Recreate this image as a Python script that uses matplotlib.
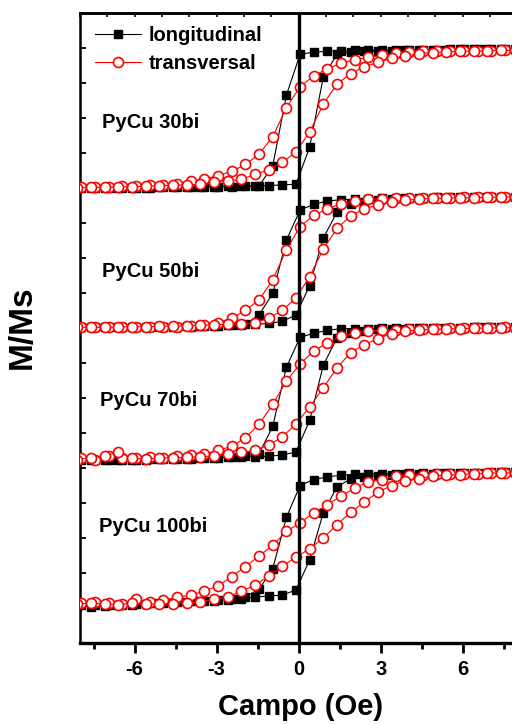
import matplotlib
matplotlib.use("Agg")
import matplotlib.pyplot as plt
from matplotlib.ticker import MultipleLocator, FixedLocator, NullFormatter

plt.rcParams['font.family'] = ['Liberation Sans', 'DejaVu Sans']
plt.rcParams['font.weight'] = 'bold'
plt.rcParams['axes.unicode_minus'] = False

# Applied field (Oe) for the descending and ascending branches of each loop
FIELD_DOWN = [8.05, 7.55, 7.05, 6.55, 6.05, 5.55, 5.05, 4.55, 4.05, 3.55, 3.05,
              2.55, 2.05, 1.55, 1.05, 0.55, 0.05, -0.45, -0.95, -1.45, -1.95,
              -2.45, -2.95, -3.45, -3.95, -4.45, -4.95, -5.45, -5.95, -6.45,
              -6.95, -7.45, -7.95]
FIELD_UP = [-8.1, -7.6, -7.1, -6.6, -6.1, -5.6, -5.1, -4.6, -4.1, -3.6, -3.1,
            -2.6, -2.1, -1.6, -1.1, -0.6, -0.1, 0.4, 0.9, 1.4, 1.9, 2.4, 2.9,
            3.4, 3.9, 4.4, 4.9, 5.4, 5.9, 6.4, 6.9, 7.4, 7.9]

SAMPLES = ["PyCu 30bi", "PyCu 50bi", "PyCu 70bi", "PyCu 100bi"]
SERIES = ["longitudinal", "transversal"]

# Normalised magnetisation M/Ms, PyCu 30bi
LONG30_DOWN = [1.0, 1.0, 1.0, 1.0, 1.0, 1.0, 0.995, 0.995, 0.99, 0.99, 0.99,
               0.985, 0.985, 0.98, 0.975, 0.96, 0.93, 0.34, -0.68, -0.97, -0.97,
               -0.98, -0.98, -0.985, -0.99, -0.99, -0.99, -0.995, -1.0, -1.0,
               -1.0, -1.0, -1.0]
LONG30_UP = [-1.0, -1.0, -1.0, -1.0, -0.995, -0.995, -0.99, -0.99, -0.985,
             -0.98, -0.98, -0.975, -0.97, -0.97, -0.965, -0.955, -0.945, -0.41,
             0.60, 0.93, 0.96, 0.97, 0.975, 0.98, 0.985, 0.99, 0.99, 0.995, 1.0,
             1.0, 1.0, 1.0, 1.0]
TRANS30_DOWN = [0.985, 0.985, 0.98, 0.98, 0.975, 0.975, 0.97, 0.97, 0.965,
                0.945, 0.915, 0.885, 0.85, 0.80, 0.72, 0.62, 0.46, 0.16, -0.26,
                -0.51, -0.66, -0.76, -0.82, -0.87, -0.90, -0.94, -0.95, -0.955,
                -0.97, -0.97, -0.99, -0.99, -0.99]
TRANS30_UP = [-1.0, -0.99, -0.99, -0.985, -0.98, -0.975, -0.965, -0.96, -0.955,
              -0.945, -0.915, -0.905, -0.875, -0.80, -0.74, -0.63, -0.48, -0.19,
              0.21, 0.50, 0.65, 0.75, 0.815, 0.87, 0.905, 0.94, 0.955, 0.965,
              0.97, 0.975, 0.98, 0.985, 0.985]

# PyCu 50bi
LONG50_DOWN = [1.0, 1.0, 1.0, 1.0, 1.0, 0.995, 0.995, 0.99, 0.99, 0.985, 0.98,
               0.975, 0.97, 0.96, 0.94, 0.89, 0.80, 0.34, -0.48, -0.81, -0.95,
               -0.97, -0.98, -0.985, -0.99, -0.99, -0.99, -0.995, -1.0, -1.0,
               -1.0, -1.0, -1.0]
LONG50_UP = [-1.0, -1.0, -1.0, -1.0, -1.0, -0.995, -0.99, -0.99, -0.985, -0.98,
             -0.975, -0.97, -0.965, -0.955, -0.94, -0.91, -0.81, -0.36, 0.37,
             0.77, 0.89, 0.93, 0.96, 0.97, 0.98, 0.985, 0.99, 0.99, 0.995, 1.0,
             1.0, 1.0, 1.0]
TRANS50_DOWN = [1.0, 1.0, 1.0, 0.995, 0.995, 0.99, 0.99, 0.99, 0.985, 0.98,
                0.975, 0.965, 0.94, 0.90, 0.82, 0.72, 0.545, 0.19, -0.27, -0.58,
                -0.74, -0.86, -0.93, -0.96, -0.98, -0.99, -0.99, -0.995, -1.0,
                -0.995, -1.0, -1.0, -1.0]
TRANS50_UP = [-1.0, -1.0, -1.0, -0.995, -0.99, -0.99, -0.985, -0.98, -0.975,
              -0.97, -0.96, -0.955, -0.95, -0.93, -0.86, -0.74, -0.55, -0.22,
              0.20, 0.52, 0.71, 0.82, 0.88, 0.93, 0.95, 0.97, 0.98, 0.985, 0.99,
              0.99, 0.995, 1.0, 1.0]

# PyCu 70bi
LONG70_DOWN = [1.0, 1.0, 1.0, 1.0, 0.995, 0.995, 0.99, 0.99, 0.99, 0.985,
               0.985, 0.98, 0.98, 0.98, 0.955, 0.91, 0.85, 0.40, -0.49, -0.90,
               -0.93, -0.95, -0.96, -0.97, -0.975, -0.98, -0.98, -0.985, -0.99,
               -0.99, -1.0, -1.0, -1.0]
LONG70_UP = [-1.0, -1.0, -1.0, -0.995, -0.99, -0.99, -0.985, -0.98, -0.975,
             -0.97, -0.96, -0.955, -0.95, -0.945, -0.94, -0.92, -0.875, -0.40,
             0.43, 0.84, 0.92, 0.95, 0.97, 0.975, 0.98, 0.985, 0.99, 0.99, 0.995,
             1.0, 1.0, 1.0, 1.0]
TRANS70_DOWN = [1.0, 1.0, 0.995, 0.99, 0.99, 0.985, 0.98, 0.98, 0.975, 0.965,
                0.96, 0.94, 0.915, 0.865, 0.77, 0.64, 0.45, 0.19, -0.16, -0.46,
                -0.66, -0.79, -0.85, -0.91, -0.92, -0.94, -0.96, -0.95, -0.97,
                -0.96, -0.94, -1.0, -0.97]
TRANS70_UP = [-0.99, -0.96, -0.94, -0.875, -0.97, -0.98, -0.965, -0.96, -0.955,
              -0.95, -0.93, -0.91, -0.88, -0.85, -0.77, -0.65, -0.45, -0.20,
              0.09, 0.39, 0.62, 0.74, 0.83, 0.905, 0.94, 0.96, 0.97, 0.975,
              0.98, 0.985, 0.99, 0.99, 0.995]

# PyCu 100bi
LONG100_DOWN = [1.0, 1.0, 1.0, 0.995, 0.995, 0.99, 0.99, 0.985, 0.985, 0.98,
                0.98, 0.975, 0.97, 0.955, 0.93, 0.89, 0.80, 0.32, -0.45, -0.76,
                -0.87, -0.90, -0.92, -0.93, -0.94, -0.95, -0.96, -0.97, -0.98,
                -0.99, -1.0, -1.0, -1.0]
LONG100_UP = [-1.02, -1.02, -1.01, -1.0, -0.99, -0.98, -0.97, -0.96, -0.95,
              -0.94, -0.93, -0.92, -0.90, -0.88, -0.86, -0.85, -0.77, -0.32,
              0.39, 0.78, 0.90, 0.93, 0.95, 0.96, 0.97, 0.98, 0.98, 0.985, 0.99,
              0.99, 0.995, 1.0, 1.0]
TRANS100_DOWN = [0.99, 0.99, 0.985, 0.98, 0.98, 0.975, 0.97, 0.965, 0.955,
                 0.94, 0.89, 0.86, 0.76, 0.64, 0.51, 0.39, 0.24, 0.11, -0.10,
                 -0.26, -0.42, -0.57, -0.71, -0.785, -0.85, -0.88, -0.925,
                 -0.95, -0.91, -0.975, -0.965, -0.95, -0.97]
TRANS100_UP = [-0.98, -0.97, -0.98, -0.99, -0.97, -0.985, -0.98, -0.975, -0.97,
               -0.95, -0.91, -0.875, -0.79, -0.70, -0.56, -0.41, -0.28, -0.15,
               0.01, 0.21, 0.40, 0.55, 0.70, 0.80, 0.87, 0.905, 0.94, 0.955,
               0.965, 0.98, 0.985, 0.99, 0.99]

LONGITUDINAL = [(LONG30_DOWN, LONG30_UP), (LONG50_DOWN, LONG50_UP),
                (LONG70_DOWN, LONG70_UP), (LONG100_DOWN, LONG100_UP)]
TRANSVERSAL = [(TRANS30_DOWN, TRANS30_UP), (TRANS50_DOWN, TRANS50_UP),
               (TRANS70_DOWN, TRANS70_UP), (TRANS100_DOWN, TRANS100_UP)]

# vertical stacking of the loops: centre and half-height in axis units
LOOP_CENTER = [7.49, 5.44, 3.56, 1.49]
LOOP_HALF = [0.99, 0.93, 0.95, 0.95]
LABEL_POS = [(-7.2, 7.35), (-7.2, 5.23), (-7.26, 3.39), (-7.32, 1.59)]

W, H = 512, 724
fig = plt.figure(figsize=(W / 100, H / 100), dpi=100)
ax = fig.add_axes([80 / W, 1 - 643 / H, 437.4 / W, 630 / H])
ax.set_xlim(-8, 8)
ax.set_ylim(0, 9)


def stacked(values, i):
    return [LOOP_CENTER[i] + LOOP_HALF[i] * v for v in values]


sq_kw = dict(color='black', lw=0.8, marker='s', ms=6.2, mfc='black',
             mec='black', zorder=2)
ci_kw = dict(color='red', lw=0.8, marker='o', ms=7.2, mfc='white',
             mec='red', mew=1.2, zorder=3)

handles = []
for i in range(len(SAMPLES)):
    down, up = LONGITUDINAL[i]
    h1, = ax.plot(FIELD_DOWN, stacked(down, i), **sq_kw)
    ax.plot(FIELD_UP, stacked(up, i), **sq_kw)
    down, up = TRANSVERSAL[i]
    h2, = ax.plot(FIELD_DOWN, stacked(down, i), **ci_kw)
    ax.plot(FIELD_UP, stacked(up, i), **ci_kw)
    if i == 0:
        handles = [h1, h2]
    ax.text(LABEL_POS[i][0], LABEL_POS[i][1], SAMPLES[i], fontsize=14.5,
            fontweight='bold', ha='left', va='baseline')

ax.axvline(0, color='black', lw=2.4, zorder=5)

ax.legend(handles, SERIES, loc='upper left', bbox_to_anchor=(0.035, 0.979),
          frameon=False, fontsize=14.5, handlelength=2.25, handletextpad=0.4,
          labelspacing=0.46, borderpad=0, borderaxespad=0)

# axes styling
for side, lw in (('left', 1.8), ('bottom', 2.4), ('top', 1.8), ('right', 1.8)):
    ax.spines[side].set_linewidth(lw)

ax.xaxis.set_major_locator(FixedLocator([-6, -3, 0, 3, 6]))
ax.xaxis.set_minor_locator(FixedLocator([-7.5, -4.5, -1.5, 1.5, 4.5, 7.5]))
ax.tick_params(axis='x', which='major', direction='out', length=7, width=2,
               labelsize=14.5, pad=5)
ax.tick_params(axis='x', which='minor', direction='out', length=4, width=2)
ax.yaxis.set_major_locator(MultipleLocator(0.5))
ax.yaxis.set_major_formatter(NullFormatter())
ax.tick_params(axis='y', which='major', direction='in', length=4, width=1.3)
for lbl in ax.get_xticklabels():
    lbl.set_fontweight('bold')

top = ax.secondary_xaxis('top')
top.xaxis.set_major_locator(MultipleLocator(1))
top.xaxis.set_major_formatter(NullFormatter())
top.tick_params(direction='in', length=3, width=1.2)
top.spines['top'].set_linewidth(1.8)

fig.text(301 / W, 1 - 715 / H, "Campo (Oe)", fontsize=21, fontweight='bold',
         ha='center', va='baseline')
fig.text(22 / W, 1 - 327 / H, "M/Ms", fontsize=24, fontweight='bold',
         rotation=90, ha='center', va='center')

fig.savefig("out.png", dpi=100)
